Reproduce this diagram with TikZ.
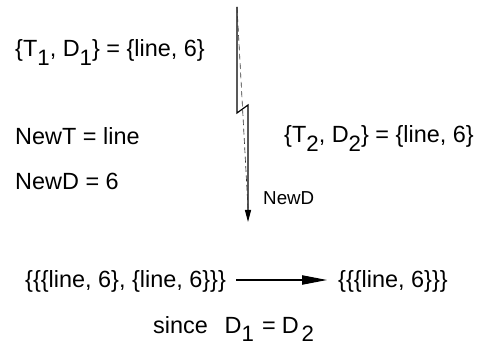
\documentclass[tikz,border=0pt]{standalone}
\usepackage{fontspec}
\setmainfont{Liberation Sans}
\usepackage{graphicx}
\usetikzlibrary{arrows.meta}

% lowered, nearly full-size index
\newcommand{\lowidx}[1]{\raisebox{-0.38em}{\scalebox{0.95}{#1}}}

\tikzset{
  txt/.style={inner sep=0pt, anchor=base west, font=\fontsize{20}{24}\selectfont},
  smalltxt/.style={inner sep=0pt, anchor=base west, font=\fontsize{16}{19}\selectfont},
  flow/.style={line width=1pt, -{Triangle[length=3.6mm, width=1.8mm]}},
}

\begin{document}
\begin{tikzpicture}[x=0.03cm, y=-0.03cm]
  \useasboundingbox (0,0) rectangle (484,348);
  \node[txt] (td1) at (15,57) {\{T\lowidx{1}, D\lowidx{1}\} = \{line, 6\}};
  \node[txt] (newt) at (15,145) {NewT = line};
  \node[txt] (newd) at (15,190) {NewD = 6};
  \node[txt] (td2) at (284,143) {\{T\lowidx{2}, D\lowidx{2}\} = \{line, 6\}};
  \node[smalltxt] (lbl) at (263,205) {NewD};

  \coordinate (top) at (237,7);
  \coordinate (tip) at (248,222);
  \coordinate (dashend) at (248,208);
  \draw[flow] (top) -- (237,113) -- (248,105) -- (tip);
  \draw[line width=0.55pt, black!80, dash pattern=on 5pt off 3pt] (top) -- (dashend);

  \node[txt] (pairs) at (25,287) {\{\{\{line, 6\}, \{line, 6\}\}\}};
  \node[txt] (single) at (338,287) {\{\{\{line, 6\}\}\}};
  \coordinate (ay) at (0,280);
  \draw[line width=0.9pt, -{Triangle[length=7.5mm, width=2.8mm]}, shorten <=0.3cm, shorten >=0.33cm]
    (pairs.east |- ay) -- (single.west |- ay);

  \node[txt] (since) at (153,333) {since\hspace{0.5cm}D\lowidx{1}\hspace{0.25cm}=\hspace{0.18cm}D\hspace{0.08cm}\lowidx{2}};
\end{tikzpicture}
\end{document}
